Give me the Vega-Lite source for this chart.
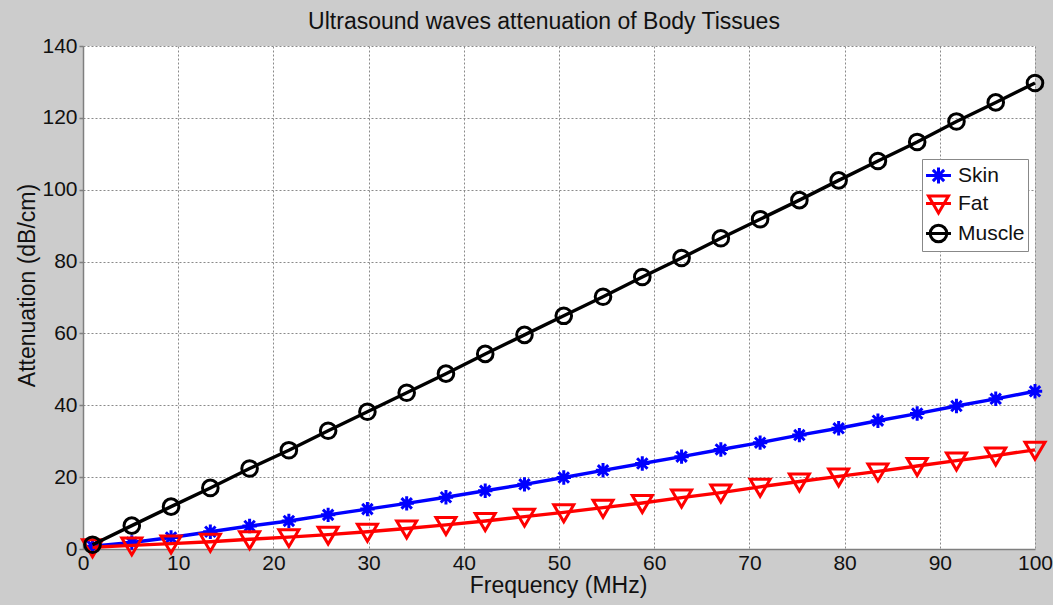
{
  "$schema": "https://vega.github.io/schema/vega-lite/v6.json",
  "width": 952,
  "height": 503,
  "autosize": {"type": "none"},
  "padding": {"left": 83, "top": 46, "right": 18, "bottom": 56},
  "background": "#CCCCCC",
  "view": {"fill": "white", "stroke": null},
  "config": {"font": "Liberation Sans"},
  "title": {"text": "Ultrasound waves attenuation of Body Tissues", "fontSize": 23, "fontWeight": "normal", "color": "#111", "font": "Liberation Sans", "offset": 1, "dx": -15},
  "data": {"values": [
    {"f": 1, "tissue": "Skin", "att": 0.8},
    {"f": 5.125, "tissue": "Skin", "att": 1.8},
    {"f": 9.25, "tissue": "Skin", "att": 3.2},
    {"f": 13.375, "tissue": "Skin", "att": 4.8},
    {"f": 17.5, "tissue": "Skin", "att": 6.4},
    {"f": 21.625, "tissue": "Skin", "att": 7.8},
    {"f": 25.75, "tissue": "Skin", "att": 9.5},
    {"f": 29.875, "tissue": "Skin", "att": 11.1},
    {"f": 34, "tissue": "Skin", "att": 12.7},
    {"f": 38.125, "tissue": "Skin", "att": 14.4},
    {"f": 42.25, "tissue": "Skin", "att": 16.2},
    {"f": 46.375, "tissue": "Skin", "att": 18.0},
    {"f": 50.5, "tissue": "Skin", "att": 19.9},
    {"f": 54.625, "tissue": "Skin", "att": 21.9},
    {"f": 58.75, "tissue": "Skin", "att": 23.8},
    {"f": 62.875, "tissue": "Skin", "att": 25.7},
    {"f": 67, "tissue": "Skin", "att": 27.7},
    {"f": 71.125, "tissue": "Skin", "att": 29.6},
    {"f": 75.25, "tissue": "Skin", "att": 31.7},
    {"f": 79.375, "tissue": "Skin", "att": 33.6},
    {"f": 83.5, "tissue": "Skin", "att": 35.7},
    {"f": 87.625, "tissue": "Skin", "att": 37.7},
    {"f": 91.75, "tissue": "Skin", "att": 39.8},
    {"f": 95.875, "tissue": "Skin", "att": 41.8},
    {"f": 100, "tissue": "Skin", "att": 43.9},
    {"f": 1, "tissue": "Fat", "att": 0.5},
    {"f": 5.125, "tissue": "Fat", "att": 1.0},
    {"f": 9.25, "tissue": "Fat", "att": 1.5},
    {"f": 13.375, "tissue": "Fat", "att": 2.0},
    {"f": 17.5, "tissue": "Fat", "att": 2.7},
    {"f": 21.625, "tissue": "Fat", "att": 3.3},
    {"f": 25.75, "tissue": "Fat", "att": 4.0},
    {"f": 29.875, "tissue": "Fat", "att": 4.8},
    {"f": 34, "tissue": "Fat", "att": 5.7},
    {"f": 38.125, "tissue": "Fat", "att": 6.7},
    {"f": 42.25, "tissue": "Fat", "att": 7.8},
    {"f": 46.375, "tissue": "Fat", "att": 9.0},
    {"f": 50.5, "tissue": "Fat", "att": 10.2},
    {"f": 54.625, "tissue": "Fat", "att": 11.5},
    {"f": 58.75, "tissue": "Fat", "att": 12.8},
    {"f": 62.875, "tissue": "Fat", "att": 14.3},
    {"f": 67, "tissue": "Fat", "att": 15.7},
    {"f": 71.125, "tissue": "Fat", "att": 17.3},
    {"f": 75.25, "tissue": "Fat", "att": 18.8},
    {"f": 79.375, "tissue": "Fat", "att": 20.2},
    {"f": 83.5, "tissue": "Fat", "att": 21.6},
    {"f": 87.625, "tissue": "Fat", "att": 23.1},
    {"f": 91.75, "tissue": "Fat", "att": 24.6},
    {"f": 95.875, "tissue": "Fat", "att": 26.0},
    {"f": 100, "tissue": "Fat", "att": 27.6},
    {"f": 1, "tissue": "Muscle", "att": 1.2},
    {"f": 5.125, "tissue": "Muscle", "att": 6.5},
    {"f": 9.25, "tissue": "Muscle", "att": 11.8},
    {"f": 13.375, "tissue": "Muscle", "att": 17.0},
    {"f": 17.5, "tissue": "Muscle", "att": 22.4},
    {"f": 21.625, "tissue": "Muscle", "att": 27.5},
    {"f": 25.75, "tissue": "Muscle", "att": 32.9},
    {"f": 29.875, "tissue": "Muscle", "att": 38.2},
    {"f": 34, "tissue": "Muscle", "att": 43.5},
    {"f": 38.125, "tissue": "Muscle", "att": 48.8},
    {"f": 42.25, "tissue": "Muscle", "att": 54.3},
    {"f": 46.375, "tissue": "Muscle", "att": 59.6},
    {"f": 50.5, "tissue": "Muscle", "att": 64.9},
    {"f": 54.625, "tissue": "Muscle", "att": 70.2},
    {"f": 58.75, "tissue": "Muscle", "att": 75.7},
    {"f": 62.875, "tissue": "Muscle", "att": 81.0},
    {"f": 67, "tissue": "Muscle", "att": 86.5},
    {"f": 71.125, "tissue": "Muscle", "att": 91.8},
    {"f": 75.25, "tissue": "Muscle", "att": 97.1},
    {"f": 79.375, "tissue": "Muscle", "att": 102.6},
    {"f": 83.5, "tissue": "Muscle", "att": 108.0},
    {"f": 87.625, "tissue": "Muscle", "att": 113.3},
    {"f": 91.75, "tissue": "Muscle", "att": 119.0},
    {"f": 95.875, "tissue": "Muscle", "att": 124.3},
    {"f": 100, "tissue": "Muscle", "att": 129.7}
  ]},
  "encoding": {
    "x": {"field": "f", "type": "quantitative", "scale": {"domain": [0, 100], "nice": false, "zero": false},
      "axis": {"title": "Frequency (MHz)", "values": [0,10,20,30,40,50,60,70,80,90,100], "grid": true, "gridColor": "#8a8a8a", "gridDash": [2, 2], "gridWidth": 1,
        "domainColor": "#7f7f7f", "domainWidth": 1.5, "tickSize": 0, "labelPadding": 3, "labelFontSize": 21, "labelColor": "#111", "labelFont": "Liberation Sans", "labelFlush": false, "labelOverlap": false,
        "titleFontSize": 23, "titleFontWeight": "normal", "titleColor": "#111", "titleFont": "Liberation Sans", "titleX": 475, "titleY": 43, "titleBaseline": "alphabetic"}},
    "y": {"field": "att", "type": "quantitative", "scale": {"domain": [0, 140], "nice": false},
      "axis": {"title": "Attenuation (dB/cm)", "values": [0,20,40,60,80,100,120,140], "grid": true, "gridColor": "#8a8a8a", "gridDash": [2, 2], "gridWidth": 1,
        "domainColor": "#7f7f7f", "domainWidth": 1.5, "tickSize": 4, "tickColor": "#7f7f7f", "tickWidth": 1.5, "labelPadding": 2, "labelFontSize": 21, "labelColor": "#111", "labelFont": "Liberation Sans", "labelFlush": false, "labelOverlap": false,
        "titleFontSize": 23, "titleFontWeight": "normal", "titleColor": "#111", "titleFont": "Liberation Sans", "titleX": -49, "titleY": 239, "titleBaseline": "alphabetic"}}
  },
  "layer": [
    {
      "transform": [{"filter": "datum.tissue === 'Skin'"}],
      "mark": {"type": "line", "strokeWidth": 3.4, "color": "#0000FF"},
      "encoding": {}
    },
    {
      "transform": [{"filter": "datum.tissue === 'Skin'"}],
      "mark": {"type": "point", "filled": false, "size": 400, "strokeWidth": 3, "opacity": 1, "color": "#0000FF",
        "shape": "M0,-0.72L0,0.72M-0.72,0L0.72,0M-0.52,-0.52L0.52,0.52M-0.52,0.52L0.52,-0.52"}
    },
    {
      "transform": [{"filter": "datum.tissue === 'Fat'"}],
      "mark": {"type": "line", "strokeWidth": 3.4, "color": "#FF0000"},
      "encoding": {}
    },
    {
      "transform": [{"filter": "datum.tissue === 'Fat'"}],
      "mark": {"type": "point", "filled": false, "size": 400, "strokeWidth": 3, "opacity": 1, "color": "#FF0000",
        "shape": "M-1,-0.75L1,-0.75L0,0.95Z"}
    },
    {
      "transform": [{"filter": "datum.tissue === 'Muscle'"}],
      "mark": {"type": "line", "strokeWidth": 3.4, "color": "#000000"},
      "encoding": {}
    },
    {
      "transform": [{"filter": "datum.tissue === 'Muscle'"}],
      "mark": {"type": "point", "filled": false, "size": 400, "strokeWidth": 3, "opacity": 1, "color": "#000000",
        "shape": "M0.78,0A0.78,0.78,0,1,1,-0.78,0A0.78,0.78,0,1,1,0.78,0Z"}
    },
    {
      "mark": {"type": "point", "filled": false, "size": 576, "strokeWidth": 3, "opacity": 0},
      "encoding": {
        "color": {"field": "tissue", "type": "nominal", "scale": {"domain": ["Skin", "Fat", "Muscle"], "range": ["#0000FF", "#FF0000", "#000000"]},
          "legend": {"title": null, "orient": "none", "legendX": 839, "legendY": 113, "fillColor": "white", "strokeColor": "#888", "padding": 3, "rowPadding": 0, "labelOffset": 6, "labelFontSize": 21, "labelColor": "#111", "labelFont": "Liberation Sans", "symbolSize": 576, "symbolOpacity": 1, "symbolStrokeWidth": 3, "symbolFillColor": "transparent"}},
        "shape": {"field": "tissue", "type": "nominal", "scale": {"domain": ["Skin", "Fat", "Muscle"], "range": [
          "M-1.04,0L1.04,0M0,-0.67L0,0.67M-0.67,0L0.67,0M-0.47,-0.47L0.47,0.47M-0.47,0.47L0.47,-0.47",
          "M-1.04,0L1.04,0M-0.83,-0.62L0.83,-0.62L0,0.79Z",
          "M-1.04,0L1.04,0M0.69,0A0.69,0.69,0,1,1,-0.69,0A0.69,0.69,0,1,1,0.69,0Z"
        ]},
          "legend": {"title": null, "orient": "none", "legendX": 839, "legendY": 113, "fillColor": "white", "strokeColor": "#888", "padding": 3, "rowPadding": 0, "labelOffset": 6, "labelFontSize": 21, "labelColor": "#111", "labelFont": "Liberation Sans", "symbolSize": 576, "symbolOpacity": 1, "symbolStrokeWidth": 3, "symbolFillColor": "transparent"}}
      }
    }
  ]
}
